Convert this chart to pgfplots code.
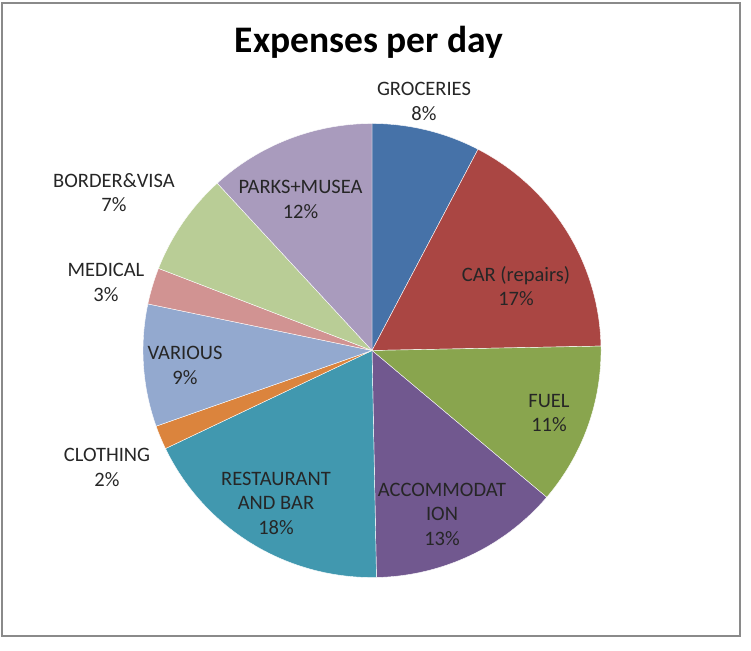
\documentclass[border=0pt]{standalone}
\usepackage{pgfplots}
\pgfplotsset{compat=1.18}
\usepackage{pgfplotstable}
\usepackage{fontspec}
\setmainfont{Carlito}
\definecolor{s0}{HTML}{4672A8}
\definecolor{s1}{HTML}{AA4643}
\definecolor{s2}{HTML}{89A54E}
\definecolor{s3}{HTML}{71588F}
\definecolor{s4}{HTML}{4198AF}
\definecolor{s5}{HTML}{DB843D}
\definecolor{s6}{HTML}{93A9CF}
\definecolor{s7}{HTML}{D19392}
\definecolor{s8}{HTML}{B9CD96}
\definecolor{s9}{HTML}{A99BBD}
\definecolor{framegray}{HTML}{8A8A8A}
% share of each category, in percent (clockwise from 12 o'clock)
\pgfplotstableread{
name pct
GROCERIES 7.66
CAR 17.03
FUEL 11.5
ACCOMMODATION 13.5
RESTAURANT 18.2
CLOTHING 1.7
VARIOUS 8.7
MEDICAL 2.6
BORDER 7.3
PARKS 11.81
}\datatable
\begin{document}
\begin{tikzpicture}
\begin{axis}[
  hide axis, scale only axis,
  width=751pt, height=650pt,
  xmin=0, xmax=751, ymin=0, ymax=650,
  y dir=reverse, clip=false,
]
\def\cum{0}
\pgfplotstablegetrowsof{\datatable}
\pgfmathtruncatemacro\N{\pgfplotsretval-1}
\pgfplotsforeachungrouped \i in {0,...,\N}{%
  \pgfplotstablegetelem{\i}{pct}\of\datatable
  \pgfmathsetmacro\a{3.6*\cum}%
  \pgfmathsetmacro\cumnew{\cum+\pgfplotsretval}%
  \pgfmathsetmacro\b{3.6*\cumnew}%
  \let\cum\cumnew
  \edef\temp{\noexpand\addplot[draw=white, line width=0.4pt, fill=s\i, domain=\a:\b, samples=90]
    ({372+229*sin(x)},{350.5-227*cos(x)}) -- (axis cs:372,350.5) -- cycle;}%
  \temp
}
\draw[framegray, line width=2pt] (axis cs:2,3) rectangle (axis cs:740,636);
\node[font=\fontsize{37.5}{42}\selectfont\bfseries] at (axis cs:369,42) {Expenses per day};
\begin{scope}[every node/.style={font=\fontsize{20.5}{24.5}\selectfont, align=center, inner sep=0pt, text=black!85}]
\node at (axis cs:424,101.5) {GROCERIES\\8\%};
\node at (axis cs:516,286) {CAR (repairs)\\17\%};
\node at (axis cs:549,413) {FUEL\\11\%};
\node at (axis cs:442,514) {ACCOMMODAT\\ION\\13\%};
\node at (axis cs:276,503) {RESTAURANT\\AND BAR\\18\%};
\node at (axis cs:107,467.5) {CLOTHING\\2\%};
\node at (axis cs:185,365.5) {VARIOUS\\9\%};
\node at (axis cs:106,282.5) {MEDICAL\\3\%};
\node at (axis cs:114,192.5) {BORDER\&VISA\\7\%};
\node at (axis cs:300.5,199.5) {PARKS+MUSEA\\12\%};
\end{scope}
\end{axis}
\pgfresetboundingbox
\path (current axis.south west) rectangle (current axis.north east);
\end{tikzpicture}
\end{document}
